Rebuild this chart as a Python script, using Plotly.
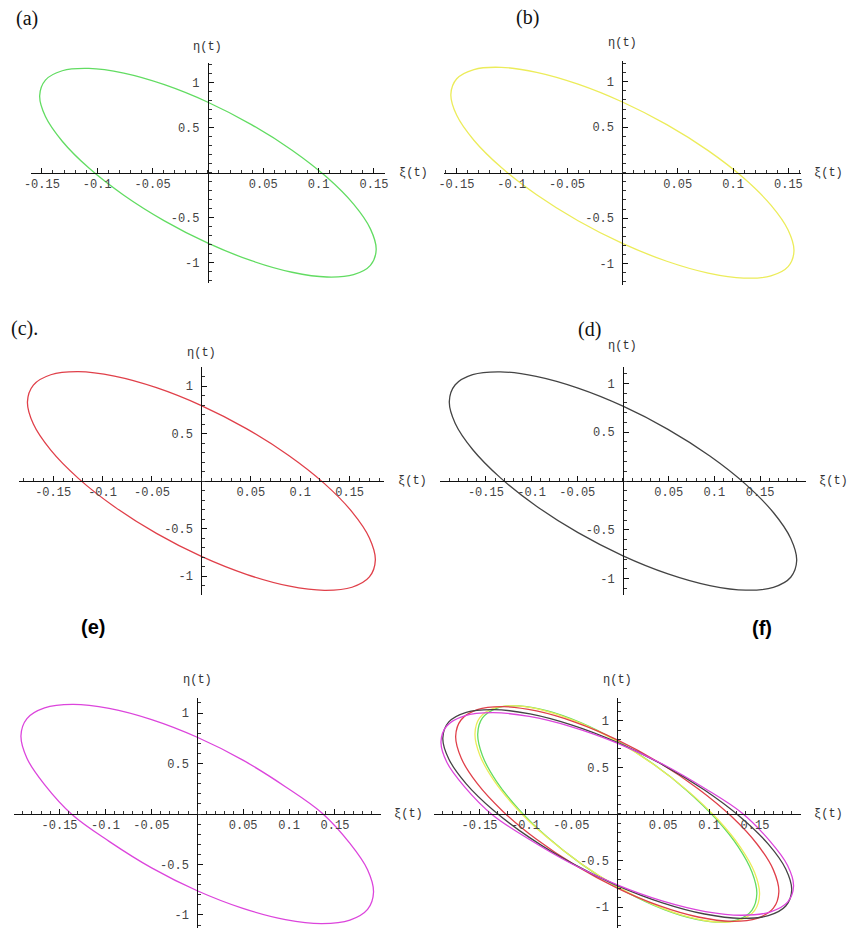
import plotly.graph_objects as go

# ---------------- data ----------------
xi_a = [0.152, 0.1468, 0.1316, 0.1075, 0.076, 0.0393, 0.0, -0.0393, -0.076, -0.1075, -0.1316, -0.1468,
        -0.152, -0.1468, -0.1316, -0.1075, -0.076, -0.0393, 0.0, 0.0393, 0.076, 0.1075, 0.1316, 0.1468, 0.152]
eta_a = [-0.856, -1.0294, -1.1328, -1.159, -1.1061, -0.9778, -0.783, -0.5348, -0.2501, 0.0516, 0.3498, 0.6242,
         0.856, 1.0294, 1.1328, 1.159, 1.1061, 0.9778, 0.783, 0.5348, 0.2501, -0.0516, -0.3498, -0.6242, -0.856]

xi_b = [0.155, 0.1497, 0.1342, 0.1096, 0.0775, 0.0401, 0.0, -0.0401, -0.0775, -0.1096, -0.1342, -0.1497,
        -0.155, -0.1497, -0.1342, -0.1096, -0.0775, -0.0401, 0.0, 0.0401, 0.0775, 0.1096, 0.1342, 0.1497, 0.155]
eta_b = [-0.861, -1.0327, -1.1341, -1.1582, -1.1034, -0.9733, -0.777, -0.5277, -0.2424, 0.0594, 0.3571, 0.6305,
         0.861, 1.0327, 1.1341, 1.1582, 1.1034, 0.9733, 0.777, 0.5277, 0.2424, -0.0594, -0.3571, -0.6305, -0.861]

xi_c = [0.176, 0.17, 0.1524, 0.1245, 0.088, 0.0455, 0.0, -0.0455, -0.088, -0.1245, -0.1524, -0.17,
        -0.176, -0.17, -0.1524, -0.1245, -0.088, -0.0455, 0.0, 0.0455, 0.088, 0.1245, 0.1524, 0.17, 0.176]
eta_c = [-0.833, -1.0101, -1.1184, -1.1504, -1.1041, -0.9825, -0.794, -0.5513, -0.2711, 0.0276, 0.3244, 0.5991,
         0.833, 1.0101, 1.1184, 1.1504, 1.1041, 0.9825, 0.794, 0.5513, 0.2711, -0.0276, -0.3244, -0.5991, -0.833]

xi_d = [0.19, 0.1835, 0.1645, 0.1343, 0.095, 0.0492, 0.0, -0.0492, -0.095, -0.1343, -0.1645, -0.1835,
        -0.19, -0.1835, -0.1645, -0.1343, -0.095, -0.0492, 0.0, 0.0492, 0.095, 0.1343, 0.1645, 0.1835, 0.19]
eta_d = [-0.816, -0.9867, -1.0902, -1.1194, -1.0722, -0.952, -0.767, -0.5296, -0.2562, 0.0346, 0.3232, 0.5897,
         0.816, 0.9867, 1.0902, 1.1194, 1.0722, 0.952, 0.767, 0.5296, 0.2562, -0.0346, -0.3232, -0.5897, -0.816]

xi_e = [0.192, 0.1855, 0.1663, 0.1358, 0.096, 0.0497, 0.0, -0.0497, -0.096, -0.1358, -0.1663, -0.1855,
        -0.192, -0.1855, -0.1663, -0.1358, -0.096, -0.0497, 0.0, 0.0497, 0.096, 0.1358, 0.1663, 0.1855, 0.192]
eta_e = [-0.775, -0.9453, -1.0512, -1.0854, -1.0457, -0.9347, -0.76, -0.5335, -0.2707, -0.0106, 0.2912, 0.5519,
         0.775, 0.9453, 1.0512, 1.0854, 1.0457, 0.9347, 0.76, 0.5335, 0.2707, 0.0106, -0.2912, -0.5519, -0.775]

panel_labels = ["(a)", "(b)", "(c).", "(d)", "(e)", "(f)"]
x_tick_vals = [-0.15, -0.1, -0.05, 0.05, 0.1, 0.15]
x_tick_text = ["-0.15", "-0.1", "-0.05", "0.05", "0.1", "0.15"]
y_tick_vals = [-1, -0.5, 0.5, 1]
y_tick_text = ["-1", "-0.5", "0.5", "1"]
x_title = "ξ(t)"
y_title = "η(t)"

# ---------------- styling / layout ----------------
W, H = 854, 928
GREEN, YELLOW, RED, BLACK, MAGENTA = "#62dc62", "#ecec5a", "#e0404a", "#444444", "#dc45dc"

series = {
    "a": [(xi_a, eta_a, GREEN)],
    "b": [(xi_b, eta_b, YELLOW)],
    "c": [(xi_c, eta_c, RED)],
    "d": [(xi_d, eta_d, BLACK)],
    "e": [(xi_e, eta_e, MAGENTA)],
    "f": [(xi_a, eta_a, GREEN), (xi_b, eta_b, YELLOW), (xi_c, eta_c, RED),
          (xi_d, eta_d, BLACK), (xi_e, eta_e, MAGENTA)],
}

# pixel boxes: (left, right, top, bottom), ranges
panels = [
    ("a", (24.1, 382.5, 62.9, 282.5), (-0.16, 0.16), (-1.22, 1.22)),
    ("b", (442.4, 803.0, 60.8, 284.6), (-0.161, 0.161), (-1.23, 1.23)),
    ("c", (11.7, 381.7, 367.0, 595.0), (-0.185, 0.185), (-1.2, 1.2)),
    ("d", (438.3, 808.3, 366.9, 595.1), (-0.2, 0.2), (-1.17, 1.17)),
    ("e", (6.7, 378.3, 697.9, 927.9), (-0.2, 0.2), (-1.128, 1.15)),
    ("f", (431.7, 803.3, 698.3, 927.8), (-0.2, 0.2), (-1.22, 1.24)),
]

label_pos = [(20, 19, "serif"), (527, 18, "serif"), (18, 328, "serif"),
             (589, 329, "serif"), (87, 627, "bold"), (764, 628, "bold")]
eta_shift = [16, 18, 14, 21, 18, 18]

fig = go.Figure()
layout = dict(width=W, height=H, margin=dict(l=0, r=0, t=0, b=0),
              paper_bgcolor="white", plot_bgcolor="white", showlegend=False)
annotations = []

mono = "Liberation Mono, Courier New, monospace"
tick_font = dict(family=mono, size=12, color="#444444")

for i, (key, (l, r, t, b), xr, yr) in enumerate(panels):
    n = "" if i == 0 else str(i + 1)
    xd = [l / W, r / W]
    yd = [1 - b / H, 1 - t / H]
    # paper position of zero on each axis
    x0 = xd[0] + (0 - xr[0]) / (xr[1] - xr[0]) * (xd[1] - xd[0])
    y0 = yd[0] + (0 - yr[0]) / (yr[1] - yr[0]) * (yd[1] - yd[0])
    layout["xaxis" + n] = dict(
        domain=xd, range=list(xr), anchor="free", position=y0,
        showgrid=False, zeroline=False, showline=True, linecolor="#111111", linewidth=1,
        tickmode="array", tickvals=x_tick_vals, ticktext=x_tick_text,
        ticks="inside", ticklen=5, tickwidth=1, tickcolor="#111111",
        minor=dict(tickmode="linear", tick0=0, dtick=0.01, ticks="inside", ticklen=3,
                   tickwidth=1, tickcolor="#333333"),
        tickfont=tick_font, fixedrange=True,
    )
    layout["yaxis" + n] = dict(
        domain=yd, range=list(yr), anchor="free", position=x0,
        showgrid=False, zeroline=False, showline=True, linecolor="#111111", linewidth=1,
        tickmode="array", tickvals=y_tick_vals, ticktext=y_tick_text,
        ticks="inside", ticklen=5, tickwidth=1, tickcolor="#111111",
        minor=dict(tickmode="linear", tick0=0, dtick=0.1, ticks="inside", ticklen=3,
                   tickwidth=1, tickcolor="#333333"),
        tickfont=tick_font, fixedrange=True, ticklabelstandoff=6,
    )
    for xs, ys, col in series[key]:
        fig.add_trace(go.Scatter(x=xs, y=ys, mode="lines", xaxis="x" + n, yaxis="y" + n,
                                 line=dict(color=col, width=1.3, shape="spline", smoothing=1.0),
                                 hoverinfo="skip"))
    # axis titles
    annotations.append(dict(text=x_title, xref=("x" + n) + " domain", yref="y" + n, x=1, y=0,
                            xanchor="center", yanchor="middle", xshift=28, showarrow=False,
                            font=dict(family=mono, size=12, color="#333333")))
    annotations.append(dict(text=y_title, xref="x" + n, yref=("y" + n) + " domain", x=0, y=1,
                            xanchor="center", yanchor="middle", yshift=eta_shift[i], showarrow=False,
                            font=dict(family=mono, size=12, color="#333333")))
    # panel label
    px, py, kind = label_pos[i]
    if kind == "serif":
        f = dict(family="Liberation Serif, Times New Roman, serif", size=20, color="#111111")
        txt = panel_labels[i]
    else:
        f = dict(family="Liberation Sans, Arial, sans-serif", size=20, color="#000000")
        txt = "<b>" + panel_labels[i] + "</b>"
    annotations.append(dict(text=txt, xref="paper", yref="paper", x=px / W, y=1 - py / H,
                            xanchor="center", yanchor="middle", showarrow=False, font=f))

layout["annotations"] = annotations
fig.update_layout(**layout)
fig.write_html("out.html", config={"displayModeBar": False},
               post_script="document.body.style.margin='0';document.body.style.overflow='hidden';")
